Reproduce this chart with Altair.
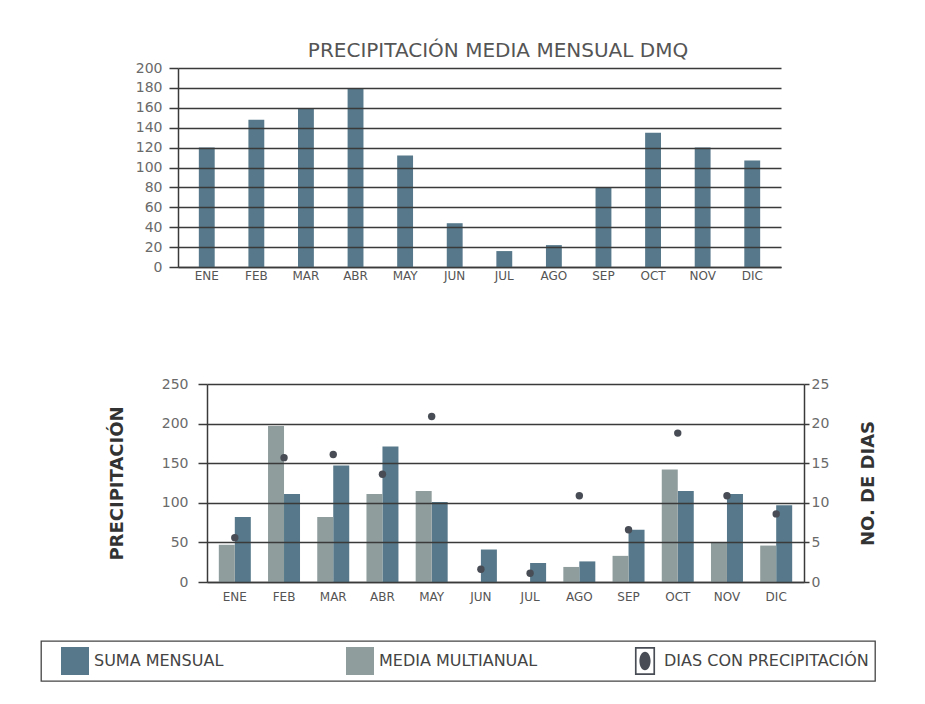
import altair as alt
import pandas as pd

meses = ["ENE", "FEB", "MAR", "ABR", "MAY", "JUN", "JUL", "AGO", "SEP", "OCT", "NOV", "DIC"]
precip_media_mensual = [120, 148, 159, 179, 112, 44, 16, 22, 80, 135, 120, 107]
suma_mensual = [82, 111, 147, 171, 101, 41, 24, 26, 66, 115, 111, 97]
media_multianual = [47, 197, 82, 111, 115, 0, 0, 19, 33, 142, 50, 46]
dias_precipitacion = [5.6, 15.7, 16.1, 13.6, 20.9, 1.6, 1.1, 10.9, 6.6, 18.8, 10.9, 8.6]
series = ["SUMA MENSUAL", "MEDIA MULTIANUAL", "DIAS CON PRECIPITACIÓN"]
colores = ["#56788a", "#8f9d9c", "#484d55"]
titulo = "PRECIPITACIÓN MEDIA MENSUAL DMQ"

FONT = "DejaVu Sans"
GRID = "#3a3a3a"

df_top = pd.DataFrame({"mes": meses, "valor": precip_media_mensual})
df_bars = pd.DataFrame({
    "mes": meses * 2,
    "serie": [series[0]] * 12 + [series[1]] * 12,
    "valor": suma_mensual + media_multianual,
})
df_dias = pd.DataFrame({"mes": meses, "dias": dias_precipitacion})
df_leg = pd.DataFrame({"serie": series})

# ---------- top chart ----------
# the top panel starts 29px further left than the lower one: its x range reaches past the
# shared origin and its y axis is offset by the same amount
SHIFT = 29
TOP_W = 574
top = alt.Chart(df_top).mark_bar(color=colores[0]).encode(
    x=alt.X("mes:N", sort=meses,
            scale=alt.Scale(paddingInner=0.68, paddingOuter=0.42, range=[-SHIFT, TOP_W]),
            axis=alt.Axis(title=None, labelAngle=0, ticks=False, labelPadding=3,
                          labelFontSize=12, labelColor="#555", domainColor=GRID,
                          domainWidth=1.5)),
    y=alt.Y("valor:Q", scale=alt.Scale(domain=[0, 200]),
            axis=alt.Axis(values=list(range(0, 201, 20)), title=None, offset=SHIFT,
                          tickSize=9, tickColor=GRID, tickWidth=1.5,
                          labelPadding=7, labelFontSize=14, labelColor="#6a6a6a",
                          domainColor=GRID, domainWidth=1.5, grid=True,
                          gridColor=GRID, gridWidth=1.5, zindex=1)),
).properties(
    width=TOP_W, height=199,
    title=alt.TitleParams(titulo, fontSize=20, color="#555", fontWeight="normal",
                          anchor="middle", frame="group", offset=0, dx=4),
)

# ---------- bottom chart ----------
color_scale = alt.Scale(domain=series, range=colores)
frame_path = ("M-0.72,-1L0.72,-1L0.72,1L-0.72,1Z"
              "M-0.6,-0.88L-0.6,0.88L0.6,0.88L0.6,-0.88Z"
              "M-0.4,0A0.4,0.66 0 1 1 0.4,0A0.4,0.66 0 1 1 -0.4,0Z")
shape_scale = alt.Scale(domain=series, range=["square", "square", frame_path])

leg = alt.Legend(title=None, orient="none", legendX=-166, legendY=573,
                 direction="horizontal", columns=3, columnPadding=33, gridAlign="all",
                 symbolSize=784, symbolStrokeWidth=0, symbolOpacity=1, symbolOffset=14,
                 labelFontSize=16, labelColor="#444", labelOffset=5, padding=6,
                 labelLimit=400)

x_bottom = alt.X("mes:N", sort=meses,
                 scale=alt.Scale(paddingInner=0.35, paddingOuter=0.24),
                 axis=alt.Axis(title=None, labelAngle=0, ticks=False, labelPadding=9,
                               labelFontSize=12, labelColor="#555", domainColor=GRID,
                               domainWidth=1.5))

barras = alt.Chart(df_bars).mark_bar().encode(
    x=x_bottom,
    xOffset=alt.XOffset("serie:N", sort=[series[1], series[0]],
                        scale=alt.Scale(paddingInner=0, paddingOuter=0)),
    y=alt.Y("valor:Q", scale=alt.Scale(domain=[0, 250]),
            axis=alt.Axis(values=list(range(0, 251, 50)), title="PRECIPITACIÓN",
                          titleFontSize=18, titleFontWeight="bold", titleColor="#333",
                          titlePadding=35, tickSize=9, tickColor=GRID, tickWidth=1.5,
                          labelPadding=10, labelFontSize=14, labelColor="#6a6a6a",
                          domainColor=GRID, domainWidth=1.5, grid=True,
                          gridColor=GRID, gridWidth=1.5, zindex=1)),
    color=alt.Color("serie:N", scale=color_scale, legend=leg),
)

puntos = alt.Chart(df_dias).mark_circle(size=55, color=colores[2], opacity=1).encode(
    x=alt.X("mes:N", sort=meses),
    y=alt.Y("dias:Q", scale=alt.Scale(domain=[0, 25]),
            axis=alt.Axis(orient="right", values=list(range(0, 26, 5)), title="NO. DE DIAS",
                          titleAngle=270, titleFontSize=18, titleFontWeight="bold",
                          titleColor="#333", titlePadding=49, tickSize=5, tickColor=GRID,
                          tickWidth=1.5, labelPadding=2, labelFontSize=14,
                          labelColor="#6a6a6a", domainColor=GRID, domainWidth=1.5,
                          grid=False)),
)

leyenda = alt.Chart(df_leg).mark_point(filled=True, opacity=0).encode(
    color=alt.Color("serie:N", scale=color_scale, legend=leg),
    shape=alt.Shape("serie:N", scale=shape_scale, legend=leg),
)

bottom = alt.layer(barras, puntos, leyenda).resolve_scale(y="independent").properties(
    width=597, height=198)

chart = alt.vconcat(top, bottom, spacing=96).resolve_legend(
    color="shared", shape="shared"
).resolve_scale(color="shared", shape="shared").properties(
    padding={"left": 32, "top": 33, "right": 5, "bottom": 5},
    background="white",
).configure_view(stroke=None).configure_axis(
    labelFont=FONT, titleFont=FONT
).configure_legend(
    labelFont=FONT, strokeColor="#444", strokeWidth=1.3
).configure_title(font=FONT)

chart.save("out.html", embed_options={"renderer": "svg", "actions": False})
